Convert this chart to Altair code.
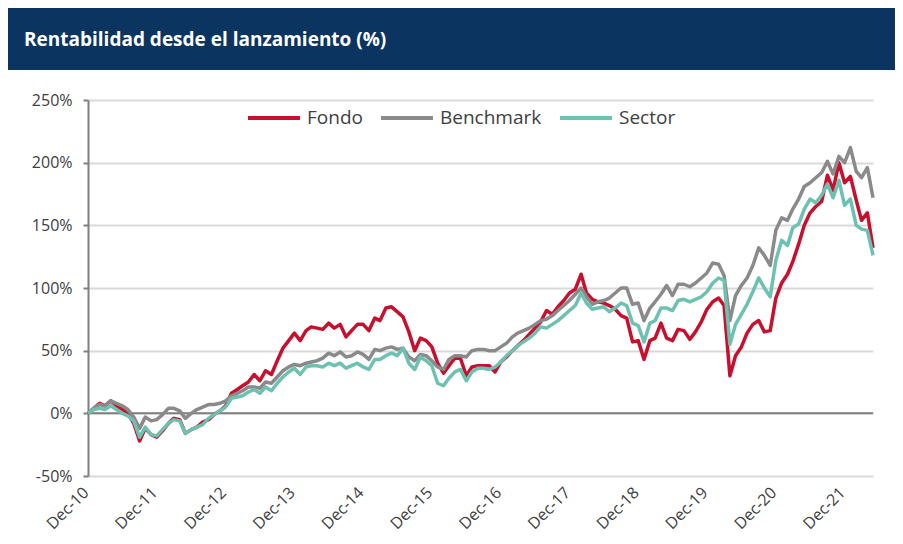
import altair as alt
import pandas as pd

TITLE = "Rentabilidad desde el lanzamiento (%)"
SERIES = ["Fondo", "Benchmark", "Sector"]
COLORS = ["#C8102E", "#8A8A8A", "#6DC1B1"]
Y_TICKS = [-50, 0, 50, 100, 150, 200, 250]
TICK_YEARS = list(range(2010, 2022))

fondo = [0, 4, 8, 6, 10, 6, 3, 0, -8, -22, -12, -17, -19, -14, -8, -4, -5, -16, -13, -11,
         -7, -5, -1, 2, 6, 16, 19, 22, 25, 31, 26, 34, 31, 42, 52, 58, 64, 58, 66, 69,
         68, 67, 72, 68, 71, 61, 66, 71, 71, 66, 76, 74, 84, 85, 81, 77, 65, 50, 60, 58,
         53, 40, 32, 38, 44, 44, 30, 37, 38, 38, 38, 33, 41, 45, 50, 54, 58, 63, 68, 73,
         82, 79, 85, 90, 96, 99, 111, 96, 91, 89, 88, 86, 83, 78, 76, 57, 58, 43, 58, 60,
         72, 60, 58, 67, 66, 59, 65, 73, 83, 89, 92, 86, 30, 46, 53, 64, 71, 74, 65, 66,
         92, 104, 111, 121, 135, 150, 160, 165, 169, 190, 178, 200, 184, 189, 170, 154, 160, 132]

benchmark = [0, 4, 7, 6, 10, 8, 6, 3, -3, -12, -3, -6, -5, -1, 4, 4, 2, -4, 0, 3,
             5, 7, 7, 8, 10, 14, 16, 18, 21, 21, 20, 25, 24, 29, 34, 37, 39, 38, 40, 41,
             42, 44, 48, 46, 49, 45, 46, 49, 47, 43, 51, 50, 52, 53, 51, 52, 45, 42, 47, 46,
             42, 37, 35, 43, 46, 46, 45, 50, 51, 51, 50, 50, 53, 56, 61, 64, 66, 68, 71, 74,
             75, 78, 82, 86, 90, 95, 100, 93, 87, 89, 90, 92, 96, 100, 100, 87, 88, 74, 84, 89,
             95, 102, 94, 103, 103, 101, 104, 108, 112, 120, 119, 110, 74, 94, 102, 108, 118, 132, 126, 118,
             146, 156, 154, 163, 171, 181, 184, 188, 192, 201, 191, 205, 200, 212, 193, 188, 196, 172]

sector = [0, 3, 4, 3, 6, 3, 0, -2, -6, -19, -11, -17, -18, -13, -8, -5, -6, -16, -13, -11,
          -9, -4, -1, 2, 5, 12, 13, 14, 17, 19, 16, 21, 18, 24, 29, 33, 36, 31, 37, 38,
          38, 37, 40, 38, 40, 36, 38, 40, 37, 35, 43, 43, 46, 48, 46, 52, 40, 35, 45, 42,
          38, 24, 22, 28, 33, 35, 26, 33, 36, 36, 35, 37, 41, 46, 50, 54, 57, 60, 64, 69,
          68, 71, 74, 78, 82, 86, 96, 88, 83, 84, 85, 81, 84, 88, 86, 72, 70, 57, 72, 74,
          84, 84, 82, 90, 91, 89, 91, 93, 97, 104, 108, 106, 55, 71, 79, 87, 97, 108, 100, 93,
          122, 138, 134, 148, 151, 163, 171, 168, 174, 183, 172, 186, 166, 171, 150, 147, 146, 126]

n = len(fondo)
dates = pd.date_range("2010-12-01", periods=n, freq="MS").strftime("%Y-%m-%d").tolist()

df = pd.DataFrame({
    "date": dates * 3,
    "value": fondo + benchmark + sector,
    "serie": ["Fondo"] * n + ["Benchmark"] * n + ["Sector"] * n,
})

FONT = "Open Sans"
W, H = 785, 376

y_scale = alt.Scale(domain=[-50, 250], nice=False, zero=False)
y_axis = alt.Axis(
    values=Y_TICKS, labelExpr="datum.value + '%'", title=None,
    domainColor="#7F7F7F", domainWidth=2, tickColor="#7F7F7F", tickWidth=2, tickSize=5,
    gridColor="#D9D9D9", gridWidth=2, labelFont=FONT, labelFontSize=16,
    labelColor="#404040", labelPadding=11,
)

bar = alt.Chart(pd.DataFrame({"k": [0]})).mark_rect(color="#0B3560", clip=False).encode(
    x=alt.value(-80), x2=alt.value(W + 22), y=alt.value(-92), y2=alt.value(-30)
)
title = alt.Chart(pd.DataFrame({"t": [TITLE]})).mark_text(
    align="left", baseline="middle", font=FONT, fontSize=19, fontWeight="bold", color="white"
).encode(x=alt.value(-64), y=alt.value(-60), text="t:N")

zero = alt.Chart(pd.DataFrame({"value": [0]})).mark_rule(color="#7F7F7F", strokeWidth=2).encode(
    y=alt.Y("value:Q", scale=y_scale, axis=y_axis)
)

x_enc = alt.X(
    "date:T",
    scale=alt.Scale(type="utc", nice=False,
                    domain=[alt.DateTime(year=2010, month=12, date=1, utc=True),
                            alt.DateTime(year=2022, month=5, date=1, utc=True)]),
    axis=alt.Axis(
        values=[alt.DateTime(year=y, month=12, date=1, utc=True) for y in TICK_YEARS],
        labelExpr="utcFormat(datum.value, '%b-%y')", labelAngle=-45, domain=False, ticks=False,
        grid=False, title=None, labelFont=FONT, labelFontSize=16, labelColor="#404040",
        labelPadding=8, labelOffset=-8,
    ),
)

lines = alt.Chart(df).mark_line(strokeWidth=3.5, strokeJoin="round").encode(
    x=x_enc,
    y=alt.Y("value:Q", scale=y_scale, axis=y_axis),
    color=alt.Color(
        "serie:N",
        scale=alt.Scale(domain=SERIES, range=COLORS),
        legend=alt.Legend(
            orient="none", legendX=158, legendY=-10, direction="horizontal", title=None,
            symbolType="stroke", symbolSize=2700, symbolStrokeWidth=4,
            labelFont=FONT, labelFontSize=19, labelColor="#404040",
            columnPadding=10, labelOffset=5,
        ),
    ),
    detail="serie:N",
)

chart = alt.layer(zero, lines, bar, title).properties(
    width=W, height=H,
    padding={"left": 80, "top": 92, "right": 22, "bottom": 60},
    autosize=alt.AutoSizeParams(type="none"),
).configure_view(stroke=None)

chart.save("out.html", embed_options={"renderer": "svg", "actions": False})
